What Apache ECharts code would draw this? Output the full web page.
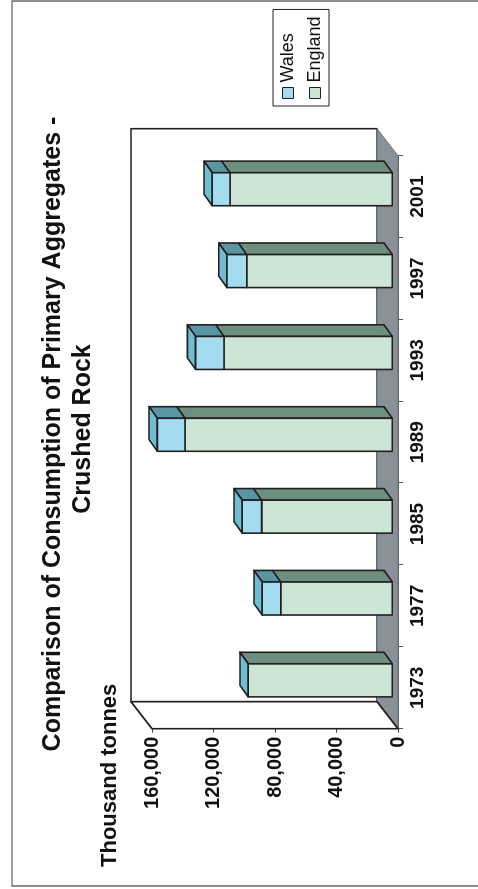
<!DOCTYPE html>
<html>
<head>
<meta charset="utf-8">
<script src="https://cdn.jsdelivr.net/npm/echarts@6/dist/echarts.min.js"></script>
<style>
  html, body { margin: 0; padding: 0; background: #fff; overflow: hidden; }
  #wrap { position: absolute; left: 0; top: 0; width: 478px; height: 889px; overflow: hidden; background: #fff; }
  /* the chart is laid out landscape and turned a quarter-turn anticlockwise */
  #chart { position: absolute; left: 0; top: 0; width: 889px; height: 478px;
           transform-origin: 0 0; transform: translate(0px, 889px) rotate(-90deg); }
</style>
</head>
<body>
<div id="wrap"><div id="chart"></div></div>
<script>
// Consumption of crushed rock, thousand tonnes
const years = ['1973', '1977', '1985', '1989', '1993', '1997', '2001'];
const england = [93700, 72600, 85000, 134800, 109500, 94700, 105600];
const wales = [0, 12000, 12600, 18000, 18400, 12800, 11500];
const valueTickLabels = ['0', '40,000', '80,000', '120,000', '160,000'];

const FONT = '"Liberation Sans", Arial, sans-serif';
const INK = '#231f20';

const colors = {
  walesFront: '#a4dcef', walesSide: '#5a96a1', walesCap: '#6dbdd3',
  englandFront: '#cce5d5', englandSide: '#6d8f7e',
  floor: '#8a9097'
};

// oblique depth of the plot box and of the bars
const WALL = { du: 27, dv: -21 };
const BAR_FRONT = { du: 7.4, dv: -5.7 };
const BAR_BACK = { du: 19, dv: -14 };
const BAR_W = 33;

function poly(points, fill, z2) {
  return {
    type: 'polygon', z2: z2 || 0,
    shape: { points: points },
    style: { fill: fill, stroke: INK, lineWidth: 1.6, lineJoin: 'round' }
  };
}

function makeBarRenderer(front, side, cap) {
  return function (params, api) {
    const idx = api.value(0);
    const p0 = api.coord([idx, api.value(1)]);
    const p1 = api.coord([idx, api.value(2)]);
    const l = p0[0] - BAR_W / 2, r = p0[0] + BAR_W / 2;
    const vb = p0[1], vt = p1[1];
    const F = BAR_FRONT, B = BAR_BACK;
    const children = [
      poly([[r + F.du, vb + F.dv], [r + B.du, vb + B.dv], [r + B.du, vt + B.dv], [r + F.du, vt + F.dv]], side, 1)
    ];
    if (cap) {
      children.push(poly([[l + F.du, vt + F.dv], [r + F.du, vt + F.dv], [r + B.du, vt + B.dv], [l + B.du, vt + B.dv]], cap, 2));
    }
    children.push(poly([[l + F.du, vb + F.dv], [r + F.du, vb + F.dv], [r + F.du, vt + F.dv], [l + F.du, vt + F.dv]], front, 3));
    return { type: 'group', children: children };
  };
}

function renderWalls(params) {
  const cs = params.coordSys;
  const x0 = cs.x, x1 = cs.x + cs.width, y0 = cs.y, y1 = cs.y + cs.height;
  const d = WALL;
  return {
    type: 'group',
    children: [
      // back wall
      { type: 'rect', shape: { x: x0 + d.du, y: y0 + d.dv, width: x1 - x0, height: y1 - y0 },
        style: { fill: '#ffffff', stroke: INK, lineWidth: 1.6 } },
      // floor
      { type: 'polygon', shape: { points: [[x0, y1], [x0 + d.du, y1 + d.dv], [x1 + d.du, y1 + d.dv], [x1, y1]] },
        style: { fill: colors.floor, stroke: '#6d7278', lineWidth: 1 } },
      // side wall
      { type: 'polygon', shape: { points: [[x0, y0], [x0 + d.du, y0 + d.dv], [x0 + d.du, y1 + d.dv], [x0, y1]] },
        style: { fill: '#ffffff', stroke: INK, lineWidth: 1.6, lineJoin: 'round' } }
    ]
  };
}

const chart = echarts.init(document.getElementById('chart'), null, { renderer: 'canvas' });

chart.setOption({
  animation: false,
  backgroundColor: '#ffffff',
  textStyle: { fontFamily: FONT },
  title: [
    { text: 'Comparison of Consumption of Primary Aggregates -', left: 450, top: 36, textAlign: 'center',
      textStyle: { fontFamily: FONT, fontSize: 25, fontWeight: 'bold', color: '#111' } },
    { text: 'Crushed Rock', left: 455, top: 66, textAlign: 'center',
      textStyle: { fontFamily: FONT, fontSize: 25, fontWeight: 'bold', color: '#111' } },
    { text: 'Thousand tonnes', left: 17, top: 94,
      textStyle: { fontFamily: FONT, fontSize: 22, fontWeight: 'bold', color: '#111' } }
  ],
  legend: {
    orient: 'vertical', left: 783, top: 273,
    padding: [6, 7, 5, 7], itemGap: 9, itemWidth: 11, itemHeight: 11,
    borderColor: INK, borderWidth: 1,
    textStyle: { fontFamily: FONT, fontSize: 18, color: '#111' },
    data: [
      { name: 'Wales', icon: 'rect', itemStyle: { color: colors.walesFront, borderColor: INK, borderWidth: 1 } },
      { name: 'England', icon: 'rect', itemStyle: { color: colors.englandFront, borderColor: INK, borderWidth: 1 } }
    ]
  },
  grid: { left: 160.3, right: 155.7, top: 152, bottom: 80 },
  xAxis: {
    type: 'category', data: years, boundaryGap: true,
    axisLine: { lineStyle: { color: '#333', width: 1.5 } },
    axisTick: { show: true, length: 5, lineStyle: { color: '#555' } },
    axisLabel: { margin: 10, fontFamily: FONT, fontSize: 19, fontWeight: 'bold', color: '#111' }
  },
  yAxis: {
    type: 'value', min: 0, max: 160000, interval: 40000,
    splitLine: { show: false },
    axisLine: { show: true, lineStyle: { color: '#222', width: 1.5 } },
    axisTick: { show: true, length: 4, lineStyle: { color: '#444' } },
    axisLabel: {
      margin: 8, fontFamily: FONT, fontSize: 20, fontWeight: 'bold', color: '#111',
      formatter: function (v) { return valueTickLabels[Math.round(v / 40000)]; }
    }
  },
  graphic: [
    { type: 'rect', z: -10, silent: true, shape: { x: 3, y: 12, width: 885, height: 480 },
      style: { fill: 'none', stroke: '#444', lineWidth: 1.2 } }
  ],
  series: [
    { type: 'custom', name: 'walls', z: 1, silent: true, renderItem: renderWalls, data: [[0, 0]] },
    { type: 'custom', name: 'England', z: 2,
      itemStyle: { color: colors.englandFront },
      renderItem: makeBarRenderer(colors.englandFront, colors.englandSide, null),
      encode: { x: 0, y: 2 },
      data: years.map((y, i) => [i, 0, england[i]]) },
    { type: 'custom', name: 'Wales', z: 3,
      itemStyle: { color: colors.walesFront },
      renderItem: makeBarRenderer(colors.walesFront, colors.walesSide, colors.walesCap),
      encode: { x: 0, y: 2 },
      data: years.map((y, i) => [i, england[i], england[i] + wales[i]]) }
  ]
});
</script>
</body>
</html>
